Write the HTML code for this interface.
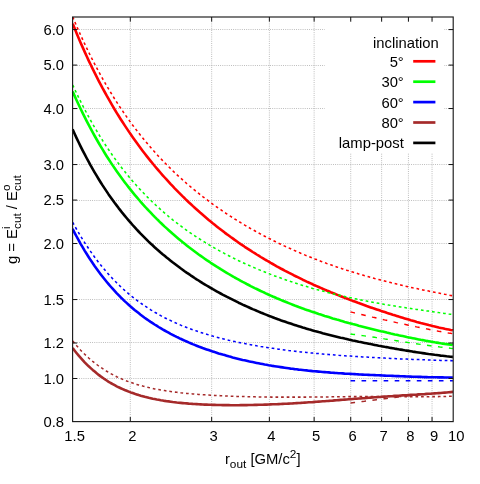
<!DOCTYPE html>
<html><head><meta charset="utf-8"><title>plot</title>
<style>html,body{margin:0;padding:0;background:#fff}svg{display:block;will-change:transform;opacity:0.9999}text{font-family:"Liberation Sans",sans-serif;fill:#000}</style></head>
<body>
<svg width="480" height="484" viewBox="0 0 480 484">
<rect width="480" height="484" fill="#fff"/>
<path d="M130.31 17.0 V421.6 M211.66 17.0 V421.6 M269.37 17.0 V421.6 M314.14 17.0 V421.6 M350.72 17.0 V421.6 M381.64 17.0 V421.6 M408.43 17.0 V421.6 M432.06 17.0 V421.6 M72.6 378.50 H453.2 M72.6 342.50 H453.2 M72.6 299.50 H453.2 M72.6 243.50 H453.2 M72.6 200.50 H453.2 M72.6 164.50 H453.2 M72.6 108.50 H453.2 M72.6 65.50 H453.2 M72.6 29.50 H453.2" stroke="#9a9a9a" stroke-width="0.72" stroke-dasharray="0.9 1.27" fill="none"/>
<clipPath id="c"><rect x="71.8" y="17.0" width="382.20000000000005" height="404.6"/></clipPath>
<g clip-path="url(#c)" fill="none" stroke-linejoin="round">
<path d="M72.7 23.7 L74.7 28.6 L76.7 33.5 L78.7 38.2 L80.7 42.9 L82.7 47.4 L84.7 51.9 L86.7 56.3 L88.7 60.6 L90.7 64.8 L92.7 68.9 L94.7 72.9 L96.7 76.9 L98.7 80.8 L100.7 84.6 L102.7 88.4 L104.7 92.0 L106.7 95.7 L108.7 99.2 L110.7 102.7 L112.7 106.1 L114.7 109.5 L116.7 112.8 L118.7 116.0 L120.7 119.2 L122.7 122.3 L124.7 125.4 L126.7 128.4 L128.7 131.4 L130.7 134.3 L132.7 137.2 L134.7 140.0 L136.7 142.8 L138.7 145.5 L140.7 148.2 L142.7 150.9 L144.7 153.5 L146.7 156.1 L148.7 158.6 L150.7 161.1 L152.7 163.5 L154.7 166.0 L156.7 168.3 L158.7 170.7 L160.7 173.0 L162.7 175.3 L164.7 177.5 L166.7 179.7 L168.7 181.9 L170.7 184.1 L172.7 186.2 L174.7 188.3 L176.7 190.3 L178.7 192.4 L180.7 194.4 L182.7 196.4 L184.7 198.3 L186.7 200.3 L188.7 202.2 L190.7 204.0 L192.7 205.9 L194.7 207.7 L196.7 209.5 L198.7 211.3 L200.7 213.1 L202.7 214.8 L204.7 216.5 L206.7 218.2 L208.7 219.9 L210.7 221.5 L212.7 223.2 L214.7 224.8 L216.7 226.4 L218.7 228.0 L220.7 229.5 L222.7 231.0 L224.7 232.6 L226.7 234.1 L228.7 235.5 L230.7 237.0 L232.7 238.4 L234.7 239.9 L236.7 241.3 L238.7 242.7 L240.7 244.1 L242.7 245.4 L244.7 246.8 L246.7 248.1 L248.7 249.4 L250.7 250.7 L252.7 252.0 L254.7 253.2 L256.7 254.5 L258.7 255.7 L260.7 257.0 L262.7 258.2 L264.7 259.4 L266.7 260.5 L268.7 261.7 L270.7 262.9 L272.7 264.0 L274.7 265.1 L276.7 266.3 L278.7 267.4 L280.7 268.5 L282.7 269.5 L284.7 270.6 L286.7 271.6 L288.7 272.7 L290.7 273.7 L292.7 274.7 L294.7 275.8 L296.7 276.7 L298.7 277.7 L300.7 278.7 L302.7 279.7 L304.7 280.6 L306.7 281.6 L308.7 282.5 L310.7 283.4 L312.7 284.3 L314.7 285.3 L316.7 286.1 L318.7 287.0 L320.7 287.9 L322.7 288.8 L324.7 289.6 L326.7 290.5 L328.7 291.3 L330.7 292.2 L332.7 293.0 L334.7 293.8 L336.7 294.6 L338.7 295.4 L340.7 296.2 L342.7 297.0 L344.7 297.8 L346.7 298.6 L348.7 299.3 L350.7 300.1 L352.7 300.9 L354.7 301.6 L356.7 302.3 L358.7 303.1 L360.7 303.8 L362.7 304.5 L364.7 305.2 L366.7 306.0 L368.7 306.7 L370.7 307.4 L372.7 308.1 L374.7 308.7 L376.7 309.4 L378.7 310.1 L380.7 310.8 L382.7 311.4 L384.7 312.1 L386.7 312.8 L388.7 313.4 L390.7 314.0 L392.7 314.7 L394.7 315.3 L396.7 315.9 L398.7 316.6 L400.7 317.2 L402.7 317.8 L404.7 318.4 L406.7 319.0 L408.7 319.6 L410.7 320.2 L412.7 320.7 L414.7 321.3 L416.7 321.9 L418.7 322.4 L420.7 323.0 L422.7 323.5 L424.7 324.0 L426.7 324.5 L428.7 325.1 L430.7 325.6 L432.7 326.1 L434.7 326.5 L436.7 327.0 L438.7 327.5 L440.7 327.9 L442.7 328.3 L444.7 328.8 L446.7 329.2 L448.7 329.6 L450.7 330.0 L452.7 330.3 L452.9 330.4" stroke="#ff0000" stroke-width="2.6"/>
<path d="M72.7 16.9 L74.7 21.6 L76.7 26.3 L78.7 30.8 L80.7 35.3 L82.7 39.6 L84.7 43.9 L86.7 48.1 L88.7 52.2 L90.7 56.3 L92.7 60.2 L94.7 64.1 L96.7 67.9 L98.7 71.6 L100.7 75.3 L102.7 78.9 L104.7 82.4 L106.7 85.8 L108.7 89.2 L110.7 92.5 L112.7 95.8 L114.7 99.0 L116.7 102.1 L118.7 105.2 L120.7 108.2 L122.7 111.1 L124.7 114.1 L126.7 116.9 L128.7 119.7 L130.7 122.5 L132.7 125.2 L134.7 127.8 L136.7 130.4 L138.7 133.0 L140.7 135.5 L142.7 138.0 L144.7 140.4 L146.7 142.8 L148.7 145.2 L150.7 147.5 L152.7 149.8 L154.7 152.0 L156.7 154.2 L158.7 156.4 L160.7 158.5 L162.7 160.6 L164.7 162.7 L166.7 164.7 L168.7 166.7 L170.7 168.7 L172.7 170.7 L174.7 172.6 L176.7 174.5 L178.7 176.3 L180.7 178.1 L182.7 179.9 L184.7 181.7 L186.7 183.5 L188.7 185.2 L190.7 186.9 L192.7 188.6 L194.7 190.2 L196.7 191.8 L198.7 193.4 L200.7 195.0 L202.7 196.6 L204.7 198.1 L206.7 199.6 L208.7 201.1 L210.7 202.6 L212.7 204.1 L214.7 205.5 L216.7 207.0 L218.7 208.4 L220.7 209.7 L222.7 211.1 L224.7 212.5 L226.7 213.8 L228.7 215.1 L230.7 216.4 L232.7 217.7 L234.7 219.0 L236.7 220.2 L238.7 221.4 L240.7 222.7 L242.7 223.9 L244.7 225.1 L246.7 226.2 L248.7 227.4 L250.7 228.6 L252.7 229.7 L254.7 230.8 L256.7 231.9 L258.7 233.0 L260.7 234.1 L262.7 235.2 L264.7 236.2 L266.7 237.3 L268.7 238.3 L270.7 239.3 L272.7 240.3 L274.7 241.3 L276.7 242.3 L278.7 243.3 L280.7 244.2 L282.7 245.2 L284.7 246.1 L286.7 247.0 L288.7 247.9 L290.7 248.8 L292.7 249.7 L294.7 250.6 L296.7 251.5 L298.7 252.3 L300.7 253.2 L302.7 254.0 L304.7 254.9 L306.7 255.7 L308.7 256.5 L310.7 257.3 L312.7 258.1 L314.7 258.9 L316.7 259.6 L318.7 260.4 L320.7 261.2 L322.7 261.9 L324.7 262.6 L326.7 263.4 L328.7 264.1 L330.7 264.8 L332.7 265.5 L334.7 266.2 L336.7 266.9 L338.7 267.6 L340.7 268.2 L342.7 268.9 L344.7 269.5 L346.7 270.2 L348.7 270.8 L350.7 271.5 L352.7 272.1 L354.7 272.7 L356.7 273.3 L358.7 273.9 L360.7 274.5 L362.7 275.1 L364.7 275.7 L366.7 276.2 L368.7 276.8 L370.7 277.4 L372.7 277.9 L374.7 278.5 L376.7 279.0 L378.7 279.5 L380.7 280.1 L382.7 280.6 L384.7 281.1 L386.7 281.6 L388.7 282.1 L390.7 282.6 L392.7 283.1 L394.7 283.6 L396.7 284.1 L398.7 284.6 L400.7 285.0 L402.7 285.5 L404.7 286.0 L406.7 286.4 L408.7 286.9 L410.7 287.3 L412.7 287.8 L414.7 288.2 L416.7 288.6 L418.7 289.1 L420.7 289.5 L422.7 289.9 L424.7 290.3 L426.7 290.7 L428.7 291.1 L430.7 291.6 L432.7 292.0 L434.7 292.3 L436.7 292.7 L438.7 293.1 L440.7 293.5 L442.7 293.9 L444.7 294.3 L446.7 294.6 L448.7 295.0 L450.7 295.4 L452.7 295.7 L452.9 295.8" stroke="#ff0000" stroke-width="1.55" stroke-dasharray="2.7 2.9"/>
<path d="M350.5 311.9 L352.5 312.4 L354.5 312.9 L356.5 313.3 L358.5 313.8 L360.5 314.3 L362.5 314.7 L364.5 315.2 L366.5 315.7 L368.5 316.2 L370.5 316.6 L372.5 317.1 L374.5 317.5 L376.5 318.0 L378.5 318.5 L380.5 318.9 L382.5 319.4 L384.5 319.9 L386.5 320.3 L388.5 320.8 L390.5 321.2 L392.5 321.7 L394.5 322.1 L396.5 322.6 L398.5 323.0 L400.5 323.4 L402.5 323.9 L404.5 324.3 L406.5 324.7 L408.5 325.2 L410.5 325.6 L412.5 326.0 L414.5 326.4 L416.5 326.9 L418.5 327.3 L420.5 327.7 L422.5 328.1 L424.5 328.5 L426.5 328.9 L428.5 329.3 L430.5 329.7 L432.5 330.1 L434.5 330.4 L436.5 330.8 L438.5 331.2 L440.5 331.5 L442.5 331.9 L444.5 332.3 L446.5 332.6 L448.5 333.0 L450.5 333.3 L452.5 333.7 L452.9 333.7" stroke="#ff0000" stroke-width="1.45" stroke-dasharray="4.6 6.45"/>
<path d="M72.7 91.6 L74.7 96.1 L76.7 100.5 L78.7 104.8 L80.7 109.0 L82.7 113.1 L84.7 117.1 L86.7 121.1 L88.7 124.9 L90.7 128.7 L92.7 132.4 L94.7 136.0 L96.7 139.5 L98.7 143.0 L100.7 146.4 L102.7 149.7 L104.7 153.0 L106.7 156.2 L108.7 159.3 L110.7 162.4 L112.7 165.4 L114.7 168.3 L116.7 171.2 L118.7 174.0 L120.7 176.8 L122.7 179.5 L124.7 182.2 L126.7 184.8 L128.7 187.4 L130.7 189.9 L132.7 192.4 L134.7 194.8 L136.7 197.2 L138.7 199.5 L140.7 201.8 L142.7 204.1 L144.7 206.3 L146.7 208.5 L148.7 210.6 L150.7 212.7 L152.7 214.8 L154.7 216.9 L156.7 218.9 L158.7 220.8 L160.7 222.8 L162.7 224.7 L164.7 226.6 L166.7 228.4 L168.7 230.2 L170.7 232.0 L172.7 233.8 L174.7 235.5 L176.7 237.2 L178.7 238.9 L180.7 240.6 L182.7 242.2 L184.7 243.8 L186.7 245.4 L188.7 247.0 L190.7 248.5 L192.7 250.0 L194.7 251.5 L196.7 253.0 L198.7 254.5 L200.7 255.9 L202.7 257.3 L204.7 258.7 L206.7 260.1 L208.7 261.4 L210.7 262.8 L212.7 264.1 L214.7 265.4 L216.7 266.7 L218.7 267.9 L220.7 269.2 L222.7 270.4 L224.7 271.6 L226.7 272.8 L228.7 274.0 L230.7 275.2 L232.7 276.3 L234.7 277.5 L236.7 278.6 L238.7 279.7 L240.7 280.8 L242.7 281.9 L244.7 282.9 L246.7 284.0 L248.7 285.0 L250.7 286.1 L252.7 287.1 L254.7 288.1 L256.7 289.0 L258.7 290.0 L260.7 291.0 L262.7 291.9 L264.7 292.8 L266.7 293.8 L268.7 294.7 L270.7 295.6 L272.7 296.5 L274.7 297.3 L276.7 298.2 L278.7 299.0 L280.7 299.9 L282.7 300.7 L284.7 301.5 L286.7 302.3 L288.7 303.1 L290.7 303.9 L292.7 304.7 L294.7 305.5 L296.7 306.2 L298.7 307.0 L300.7 307.7 L302.7 308.4 L304.7 309.2 L306.7 309.9 L308.7 310.6 L310.7 311.3 L312.7 311.9 L314.7 312.6 L316.7 313.3 L318.7 314.0 L320.7 314.6 L322.7 315.2 L324.7 315.9 L326.7 316.5 L328.7 317.1 L330.7 317.7 L332.7 318.4 L334.7 319.0 L336.7 319.6 L338.7 320.1 L340.7 320.7 L342.7 321.3 L344.7 321.9 L346.7 322.4 L348.7 323.0 L350.7 323.5 L352.7 324.1 L354.7 324.6 L356.7 325.1 L358.7 325.7 L360.7 326.2 L362.7 326.7 L364.7 327.2 L366.7 327.7 L368.7 328.2 L370.7 328.7 L372.7 329.2 L374.7 329.7 L376.7 330.2 L378.7 330.7 L380.7 331.2 L382.7 331.6 L384.7 332.1 L386.7 332.6 L388.7 333.0 L390.7 333.5 L392.7 333.9 L394.7 334.4 L396.7 334.8 L398.7 335.3 L400.7 335.7 L402.7 336.1 L404.7 336.5 L406.7 337.0 L408.7 337.4 L410.7 337.8 L412.7 338.2 L414.7 338.6 L416.7 339.0 L418.7 339.4 L420.7 339.8 L422.7 340.1 L424.7 340.5 L426.7 340.9 L428.7 341.2 L430.7 341.6 L432.7 341.9 L434.7 342.3 L436.7 342.6 L438.7 342.9 L440.7 343.3 L442.7 343.6 L444.7 343.9 L446.7 344.1 L448.7 344.4 L450.7 344.7 L452.7 344.9 L452.9 345.0" stroke="#00ff00" stroke-width="2.6"/>
<path d="M72.7 85.0 L74.7 89.3 L76.7 93.5 L78.7 97.6 L80.7 101.6 L82.7 105.6 L84.7 109.4 L86.7 113.2 L88.7 116.9 L90.7 120.5 L92.7 124.1 L94.7 127.5 L96.7 130.9 L98.7 134.2 L100.7 137.5 L102.7 140.7 L104.7 143.8 L106.7 146.8 L108.7 149.8 L110.7 152.7 L112.7 155.6 L114.7 158.4 L116.7 161.1 L118.7 163.8 L120.7 166.5 L122.7 169.1 L124.7 171.6 L126.7 174.1 L128.7 176.5 L130.7 178.9 L132.7 181.2 L134.7 183.5 L136.7 185.8 L138.7 188.0 L140.7 190.1 L142.7 192.2 L144.7 194.3 L146.7 196.4 L148.7 198.4 L150.7 200.3 L152.7 202.3 L154.7 204.2 L156.7 206.0 L158.7 207.8 L160.7 209.6 L162.7 211.4 L164.7 213.1 L166.7 214.8 L168.7 216.5 L170.7 218.1 L172.7 219.8 L174.7 221.3 L176.7 222.9 L178.7 224.4 L180.7 225.9 L182.7 227.4 L184.7 228.9 L186.7 230.3 L188.7 231.7 L190.7 233.1 L192.7 234.5 L194.7 235.8 L196.7 237.1 L198.7 238.4 L200.7 239.7 L202.7 241.0 L204.7 242.2 L206.7 243.4 L208.7 244.6 L210.7 245.8 L212.7 247.0 L214.7 248.1 L216.7 249.3 L218.7 250.4 L220.7 251.5 L222.7 252.5 L224.7 253.6 L226.7 254.7 L228.7 255.7 L230.7 256.7 L232.7 257.7 L234.7 258.7 L236.7 259.7 L238.7 260.7 L240.7 261.6 L242.7 262.6 L244.7 263.5 L246.7 264.4 L248.7 265.3 L250.7 266.2 L252.7 267.1 L254.7 267.9 L256.7 268.8 L258.7 269.6 L260.7 270.4 L262.7 271.2 L264.7 272.0 L266.7 272.8 L268.7 273.6 L270.7 274.4 L272.7 275.2 L274.7 275.9 L276.7 276.6 L278.7 277.4 L280.7 278.1 L282.7 278.8 L284.7 279.5 L286.7 280.2 L288.7 280.9 L290.7 281.6 L292.7 282.2 L294.7 282.9 L296.7 283.5 L298.7 284.1 L300.7 284.8 L302.7 285.4 L304.7 286.0 L306.7 286.6 L308.7 287.2 L310.7 287.8 L312.7 288.4 L314.7 288.9 L316.7 289.5 L318.7 290.0 L320.7 290.6 L322.7 291.1 L324.7 291.6 L326.7 292.2 L328.7 292.7 L330.7 293.2 L332.7 293.7 L334.7 294.2 L336.7 294.6 L338.7 295.1 L340.7 295.6 L342.7 296.0 L344.7 296.5 L346.7 297.0 L348.7 297.4 L350.7 297.8 L352.7 298.3 L354.7 298.7 L356.7 299.1 L358.7 299.5 L360.7 299.9 L362.7 300.3 L364.7 300.7 L366.7 301.1 L368.7 301.5 L370.7 301.9 L372.7 302.2 L374.7 302.6 L376.7 303.0 L378.7 303.3 L380.7 303.7 L382.7 304.0 L384.7 304.4 L386.7 304.7 L388.7 305.1 L390.7 305.4 L392.7 305.7 L394.7 306.0 L396.7 306.4 L398.7 306.7 L400.7 307.0 L402.7 307.3 L404.7 307.6 L406.7 307.9 L408.7 308.2 L410.7 308.5 L412.7 308.8 L414.7 309.1 L416.7 309.4 L418.7 309.7 L420.7 310.0 L422.7 310.3 L424.7 310.6 L426.7 310.9 L428.7 311.1 L430.7 311.4 L432.7 311.7 L434.7 312.0 L436.7 312.3 L438.7 312.6 L440.7 312.8 L442.7 313.1 L444.7 313.4 L446.7 313.7 L448.7 314.0 L450.7 314.2 L452.7 314.5 L452.9 314.5" stroke="#00ff00" stroke-width="1.55" stroke-dasharray="2.7 2.9"/>
<path d="M350.5 334.0 L352.5 334.3 L354.5 334.5 L356.5 334.8 L358.5 335.0 L360.5 335.3 L362.5 335.6 L364.5 335.9 L366.5 336.2 L368.5 336.5 L370.5 336.7 L372.5 337.0 L374.5 337.3 L376.5 337.6 L378.5 337.9 L380.5 338.2 L382.5 338.5 L384.5 338.9 L386.5 339.2 L388.5 339.5 L390.5 339.8 L392.5 340.1 L394.5 340.4 L396.5 340.7 L398.5 341.0 L400.5 341.3 L402.5 341.7 L404.5 342.0 L406.5 342.3 L408.5 342.6 L410.5 342.9 L412.5 343.2 L414.5 343.5 L416.5 343.8 L418.5 344.1 L420.5 344.4 L422.5 344.7 L424.5 345.0 L426.5 345.2 L428.5 345.5 L430.5 345.8 L432.5 346.1 L434.5 346.3 L436.5 346.6 L438.5 346.8 L440.5 347.1 L442.5 347.3 L444.5 347.6 L446.5 347.8 L448.5 348.0 L450.5 348.3 L452.5 348.5 L452.9 348.5" stroke="#00ff00" stroke-width="1.45" stroke-dasharray="4.6 6.45"/>
<path d="M72.6 228.9 L74.6 232.8 L76.6 236.5 L78.6 240.2 L80.6 243.8 L82.6 247.2 L84.6 250.6 L86.6 253.8 L88.6 257.0 L90.6 260.1 L92.6 263.0 L94.6 266.0 L96.6 268.8 L98.6 271.5 L100.6 274.2 L102.6 276.8 L104.6 279.3 L106.6 281.8 L108.6 284.2 L110.6 286.5 L112.6 288.7 L114.6 290.9 L116.6 293.1 L118.6 295.1 L120.6 297.2 L122.6 299.1 L124.6 301.1 L126.6 302.9 L128.6 304.7 L130.6 306.5 L132.6 308.2 L134.6 309.9 L136.6 311.5 L138.6 313.1 L140.6 314.7 L142.6 316.2 L144.6 317.7 L146.6 319.1 L148.6 320.5 L150.6 321.9 L152.6 323.2 L154.6 324.5 L156.6 325.7 L158.6 327.0 L160.6 328.2 L162.6 329.4 L164.6 330.5 L166.6 331.6 L168.6 332.7 L170.6 333.8 L172.6 334.8 L174.6 335.9 L176.6 336.9 L178.6 337.8 L180.6 338.8 L182.6 339.7 L184.6 340.6 L186.6 341.5 L188.6 342.4 L190.6 343.2 L192.6 344.1 L194.6 344.9 L196.6 345.7 L198.6 346.5 L200.6 347.2 L202.6 348.0 L204.6 348.7 L206.6 349.4 L208.6 350.1 L210.6 350.8 L212.6 351.4 L214.6 352.1 L216.6 352.7 L218.6 353.4 L220.6 354.0 L222.6 354.6 L224.6 355.1 L226.6 355.7 L228.6 356.3 L230.6 356.8 L232.6 357.4 L234.6 357.9 L236.6 358.4 L238.6 358.9 L240.6 359.4 L242.6 359.9 L244.6 360.3 L246.6 360.8 L248.6 361.3 L250.6 361.7 L252.6 362.1 L254.6 362.5 L256.6 362.9 L258.6 363.3 L260.6 363.7 L262.6 364.1 L264.6 364.5 L266.6 364.8 L268.6 365.2 L270.6 365.5 L272.6 365.9 L274.6 366.2 L276.6 366.5 L278.6 366.8 L280.6 367.1 L282.6 367.4 L284.6 367.7 L286.6 368.0 L288.6 368.3 L290.6 368.6 L292.6 368.8 L294.6 369.1 L296.6 369.3 L298.6 369.6 L300.6 369.8 L302.6 370.0 L304.6 370.2 L306.6 370.4 L308.6 370.7 L310.6 370.9 L312.6 371.1 L314.6 371.2 L316.6 371.4 L318.6 371.6 L320.6 371.8 L322.6 372.0 L324.6 372.1 L326.6 372.3 L328.6 372.4 L330.6 372.6 L332.6 372.7 L334.6 372.9 L336.6 373.0 L338.6 373.2 L340.6 373.3 L342.6 373.4 L344.6 373.6 L346.6 373.7 L348.6 373.8 L350.6 373.9 L352.6 374.0 L354.6 374.1 L356.6 374.2 L358.6 374.4 L360.6 374.5 L362.6 374.6 L364.6 374.7 L366.6 374.8 L368.6 374.9 L370.6 375.0 L372.6 375.0 L374.6 375.1 L376.6 375.2 L378.6 375.3 L380.6 375.4 L382.6 375.5 L384.6 375.6 L386.6 375.7 L388.6 375.7 L390.6 375.8 L392.6 375.9 L394.6 376.0 L396.6 376.1 L398.6 376.1 L400.6 376.2 L402.6 376.3 L404.6 376.4 L406.6 376.5 L408.6 376.5 L410.6 376.6 L412.6 376.7 L414.6 376.7 L416.6 376.8 L418.6 376.9 L420.6 376.9 L422.6 377.0 L424.6 377.1 L426.6 377.1 L428.6 377.2 L430.6 377.2 L432.6 377.3 L434.6 377.3 L436.6 377.3 L438.6 377.4 L440.6 377.4 L442.6 377.4 L444.6 377.5 L446.6 377.5 L448.6 377.5 L450.6 377.5 L452.6 377.5 L452.9 377.5" stroke="#0000ff" stroke-width="2.6"/>
<path d="M72.7 222.3 L74.7 226.0 L76.7 229.5 L78.7 232.9 L80.7 236.3 L82.7 239.5 L84.7 242.7 L86.7 245.7 L88.7 248.7 L90.7 251.6 L92.7 254.5 L94.7 257.2 L96.7 259.9 L98.7 262.5 L100.7 265.0 L102.7 267.5 L104.7 269.8 L106.7 272.2 L108.7 274.4 L110.7 276.6 L112.7 278.7 L114.7 280.8 L116.7 282.8 L118.7 284.8 L120.7 286.7 L122.7 288.6 L124.7 290.4 L126.7 292.1 L128.7 293.8 L130.7 295.5 L132.7 297.1 L134.7 298.7 L136.7 300.2 L138.7 301.7 L140.7 303.1 L142.7 304.5 L144.7 305.9 L146.7 307.2 L148.7 308.5 L150.7 309.8 L152.7 311.0 L154.7 312.2 L156.7 313.3 L158.7 314.5 L160.7 315.6 L162.7 316.6 L164.7 317.7 L166.7 318.7 L168.7 319.7 L170.7 320.6 L172.7 321.6 L174.7 322.5 L176.7 323.4 L178.7 324.2 L180.7 325.1 L182.7 325.9 L184.7 326.7 L186.7 327.5 L188.7 328.3 L190.7 329.0 L192.7 329.7 L194.7 330.4 L196.7 331.1 L198.7 331.8 L200.7 332.4 L202.7 333.1 L204.7 333.7 L206.7 334.3 L208.7 334.9 L210.7 335.5 L212.7 336.1 L214.7 336.6 L216.7 337.2 L218.7 337.7 L220.7 338.2 L222.7 338.7 L224.7 339.2 L226.7 339.7 L228.7 340.2 L230.7 340.6 L232.7 341.1 L234.7 341.5 L236.7 342.0 L238.7 342.4 L240.7 342.8 L242.7 343.2 L244.7 343.6 L246.7 344.0 L248.7 344.4 L250.7 344.7 L252.7 345.1 L254.7 345.4 L256.7 345.8 L258.7 346.1 L260.7 346.5 L262.7 346.8 L264.7 347.1 L266.7 347.4 L268.7 347.7 L270.7 348.0 L272.7 348.3 L274.7 348.6 L276.7 348.9 L278.7 349.2 L280.7 349.4 L282.7 349.7 L284.7 350.0 L286.7 350.2 L288.7 350.5 L290.7 350.7 L292.7 350.9 L294.7 351.2 L296.7 351.4 L298.7 351.6 L300.7 351.9 L302.7 352.1 L304.7 352.3 L306.7 352.5 L308.7 352.7 L310.7 352.9 L312.7 353.1 L314.7 353.3 L316.7 353.5 L318.7 353.6 L320.7 353.8 L322.7 354.0 L324.7 354.2 L326.7 354.3 L328.7 354.5 L330.7 354.7 L332.7 354.8 L334.7 355.0 L336.7 355.1 L338.7 355.3 L340.7 355.4 L342.7 355.6 L344.7 355.7 L346.7 355.9 L348.7 356.0 L350.7 356.1 L352.7 356.3 L354.7 356.4 L356.7 356.5 L358.7 356.7 L360.7 356.8 L362.7 356.9 L364.7 357.0 L366.7 357.1 L368.7 357.2 L370.7 357.4 L372.7 357.5 L374.7 357.6 L376.7 357.7 L378.7 357.8 L380.7 357.9 L382.7 358.0 L384.7 358.1 L386.7 358.2 L388.7 358.3 L390.7 358.4 L392.7 358.5 L394.7 358.6 L396.7 358.7 L398.7 358.8 L400.7 358.9 L402.7 358.9 L404.7 359.0 L406.7 359.1 L408.7 359.2 L410.7 359.3 L412.7 359.4 L414.7 359.4 L416.7 359.5 L418.7 359.6 L420.7 359.7 L422.7 359.8 L424.7 359.8 L426.7 359.9 L428.7 360.0 L430.7 360.0 L432.7 360.1 L434.7 360.2 L436.7 360.2 L438.7 360.3 L440.7 360.4 L442.7 360.4 L444.7 360.5 L446.7 360.5 L448.7 360.6 L450.7 360.6 L452.7 360.7 L452.9 360.7" stroke="#0000ff" stroke-width="1.55" stroke-dasharray="2.7 2.9"/>
<path d="M350.50 380.80 L452.90 380.80" stroke="#0000ff" stroke-width="1.45" stroke-dasharray="4.6 6.45"/>
<path d="M72.7 348.1 L74.7 350.7 L76.7 353.2 L78.7 355.6 L80.7 357.9 L82.7 360.1 L84.7 362.3 L86.7 364.3 L88.7 366.3 L90.7 368.1 L92.7 369.9 L94.7 371.6 L96.7 373.3 L98.7 374.9 L100.7 376.4 L102.7 377.8 L104.7 379.2 L106.7 380.5 L108.7 381.8 L110.7 383.0 L112.7 384.1 L114.7 385.2 L116.7 386.3 L118.7 387.3 L120.7 388.2 L122.7 389.1 L124.7 390.0 L126.7 390.8 L128.7 391.6 L130.7 392.4 L132.7 393.1 L134.7 393.8 L136.7 394.4 L138.7 395.1 L140.7 395.7 L142.7 396.2 L144.7 396.8 L146.7 397.3 L148.7 397.8 L150.7 398.2 L152.7 398.7 L154.7 399.1 L156.7 399.5 L158.7 399.8 L160.7 400.2 L162.7 400.5 L164.7 400.9 L166.7 401.2 L168.7 401.4 L170.7 401.7 L172.7 402.0 L174.7 402.2 L176.7 402.5 L178.7 402.7 L180.7 402.9 L182.7 403.1 L184.7 403.3 L186.7 403.4 L188.7 403.6 L190.7 403.7 L192.7 403.9 L194.7 404.0 L196.7 404.1 L198.7 404.3 L200.7 404.4 L202.7 404.5 L204.7 404.6 L206.7 404.6 L208.7 404.7 L210.7 404.8 L212.7 404.9 L214.7 404.9 L216.7 405.0 L218.7 405.0 L220.7 405.0 L222.7 405.1 L224.7 405.1 L226.7 405.1 L228.7 405.1 L230.7 405.2 L232.7 405.2 L234.7 405.2 L236.7 405.2 L238.7 405.2 L240.7 405.1 L242.7 405.1 L244.7 405.1 L246.7 405.1 L248.7 405.0 L250.7 405.0 L252.7 405.0 L254.7 404.9 L256.7 404.9 L258.7 404.8 L260.7 404.8 L262.7 404.7 L264.7 404.6 L266.7 404.6 L268.7 404.5 L270.7 404.4 L272.7 404.3 L274.7 404.3 L276.7 404.2 L278.7 404.1 L280.7 404.0 L282.7 403.9 L284.7 403.8 L286.7 403.7 L288.7 403.6 L290.7 403.5 L292.7 403.4 L294.7 403.2 L296.7 403.1 L298.7 403.0 L300.7 402.9 L302.7 402.7 L304.7 402.6 L306.7 402.5 L308.7 402.3 L310.7 402.2 L312.7 402.1 L314.7 401.9 L316.7 401.8 L318.7 401.6 L320.7 401.5 L322.7 401.3 L324.7 401.2 L326.7 401.0 L328.7 400.9 L330.7 400.7 L332.7 400.6 L334.7 400.4 L336.7 400.3 L338.7 400.1 L340.7 399.9 L342.7 399.8 L344.7 399.6 L346.7 399.5 L348.7 399.3 L350.7 399.2 L352.7 399.0 L354.7 398.8 L356.7 398.7 L358.7 398.5 L360.7 398.4 L362.7 398.2 L364.7 398.1 L366.7 397.9 L368.7 397.8 L370.7 397.6 L372.7 397.5 L374.7 397.3 L376.7 397.2 L378.7 397.0 L380.7 396.9 L382.7 396.7 L384.7 396.6 L386.7 396.5 L388.7 396.3 L390.7 396.2 L392.7 396.1 L394.7 395.9 L396.7 395.8 L398.7 395.7 L400.7 395.5 L402.7 395.4 L404.7 395.3 L406.7 395.2 L408.7 395.0 L410.7 394.9 L412.7 394.8 L414.7 394.7 L416.7 394.6 L418.7 394.4 L420.7 394.3 L422.7 394.2 L424.7 394.1 L426.7 393.9 L428.7 393.8 L430.7 393.7 L432.7 393.5 L434.7 393.4 L436.7 393.3 L438.7 393.1 L440.7 393.0 L442.7 392.8 L444.7 392.6 L446.7 392.5 L448.7 392.3 L450.7 392.1 L452.7 391.9 L452.9 391.9" stroke="#a52a2a" stroke-width="2.6"/>
<path d="M72.7 341.0 L74.7 343.4 L76.7 345.8 L78.7 348.0 L80.7 350.2 L82.7 352.3 L84.7 354.2 L86.7 356.1 L88.7 358.0 L90.7 359.7 L92.7 361.4 L94.7 363.0 L96.7 364.5 L98.7 366.0 L100.7 367.4 L102.7 368.7 L104.7 370.0 L106.7 371.3 L108.7 372.4 L110.7 373.6 L112.7 374.6 L114.7 375.7 L116.7 376.7 L118.7 377.6 L120.7 378.5 L122.7 379.4 L124.7 380.2 L126.7 381.0 L128.7 381.7 L130.7 382.4 L132.7 383.1 L134.7 383.8 L136.7 384.4 L138.7 385.0 L140.7 385.5 L142.7 386.1 L144.7 386.6 L146.7 387.1 L148.7 387.6 L150.7 388.0 L152.7 388.4 L154.7 388.9 L156.7 389.2 L158.7 389.6 L160.7 390.0 L162.7 390.3 L164.7 390.6 L166.7 391.0 L168.7 391.2 L170.7 391.5 L172.7 391.8 L174.7 392.1 L176.7 392.3 L178.7 392.5 L180.7 392.8 L182.7 393.0 L184.7 393.2 L186.7 393.4 L188.7 393.6 L190.7 393.8 L192.7 393.9 L194.7 394.1 L196.7 394.3 L198.7 394.4 L200.7 394.6 L202.7 394.7 L204.7 394.8 L206.7 395.0 L208.7 395.1 L210.7 395.2 L212.7 395.3 L214.7 395.4 L216.7 395.5 L218.7 395.6 L220.7 395.7 L222.7 395.8 L224.7 395.9 L226.7 396.0 L228.7 396.1 L230.7 396.2 L232.7 396.2 L234.7 396.3 L236.7 396.4 L238.7 396.4 L240.7 396.5 L242.7 396.5 L244.7 396.6 L246.7 396.7 L248.7 396.7 L250.7 396.7 L252.7 396.8 L254.7 396.8 L256.7 396.9 L258.7 396.9 L260.7 396.9 L262.7 397.0 L264.7 397.0 L266.7 397.0 L268.7 397.0 L270.7 397.1 L272.7 397.1 L274.7 397.1 L276.7 397.1 L278.7 397.1 L280.7 397.1 L282.7 397.1 L284.7 397.1 L286.7 397.1 L288.7 397.1 L290.7 397.1 L292.7 397.1 L294.7 397.1 L296.7 397.1 L298.7 397.1 L300.7 397.1 L302.7 397.1 L304.7 397.1 L306.7 397.1 L308.7 397.1 L310.7 397.0 L312.7 397.0 L314.7 397.0 L316.7 397.0 L318.7 397.0 L320.7 396.9 L322.7 396.9 L324.7 396.9 L326.7 396.9 L328.7 396.9 L330.7 396.8 L332.7 396.8 L334.7 396.8 L336.7 396.8 L338.7 396.8 L340.7 396.7 L342.7 396.7 L344.7 396.7 L346.7 396.7 L348.7 396.6 L350.7 396.6 L352.7 396.6 L354.7 396.6 L356.7 396.6 L358.7 396.6 L360.7 396.5 L362.7 396.5 L364.7 396.5 L366.7 396.5 L368.7 396.5 L370.7 396.5 L372.7 396.5 L374.7 396.5 L376.7 396.5 L378.7 396.5 L380.7 396.5 L382.7 396.5 L384.7 396.5 L386.7 396.5 L388.7 396.5 L390.7 396.5 L392.7 396.5 L394.7 396.5 L396.7 396.5 L398.7 396.5 L400.7 396.5 L402.7 396.5 L404.7 396.6 L406.7 396.6 L408.7 396.6 L410.7 396.6 L412.7 396.6 L414.7 396.6 L416.7 396.6 L418.7 396.6 L420.7 396.6 L422.7 396.6 L424.7 396.7 L426.7 396.7 L428.7 396.7 L430.7 396.6 L432.7 396.6 L434.7 396.6 L436.7 396.6 L438.7 396.6 L440.7 396.5 L442.7 396.5 L444.7 396.5 L446.7 396.4 L448.7 396.3 L450.7 396.3 L452.7 396.2 L452.9 396.2" stroke="#a52a2a" stroke-width="1.55" stroke-dasharray="2.7 2.9"/>
<path d="M350.5 403.0 L352.5 402.7 L354.5 402.5 L356.5 402.3 L358.5 402.0 L360.5 401.8 L362.5 401.5 L364.5 401.3 L366.5 401.0 L368.5 400.8 L370.5 400.5 L372.5 400.3 L374.5 400.0 L376.5 399.7 L378.5 399.5 L380.5 399.2 L382.5 399.0 L384.5 398.7 L386.5 398.5 L388.5 398.3 L390.5 398.0 L392.5 397.8 L394.5 397.5 L396.5 397.3 L398.5 397.1 L400.5 396.8 L402.5 396.6 L404.5 396.4 L406.5 396.1 L408.5 395.9 L410.5 395.7 L412.5 395.5 L414.5 395.2 L416.5 395.0 L418.5 394.8 L420.5 394.6 L422.5 394.4 L424.5 394.2 L426.5 394.0 L428.5 393.8 L430.5 393.7 L432.5 393.5 L434.5 393.3 L436.5 393.1 L438.5 393.0 L440.5 392.8 L442.5 392.7 L444.5 392.5 L446.5 392.4 L448.5 392.3 L450.5 392.1 L452.5 392.0 L452.9 392.0" stroke="#a52a2a" stroke-width="1.45" stroke-dasharray="4.6 6.45"/>
<path d="M72.6 129.4 L74.6 133.8 L76.6 138.1 L78.6 142.3 L80.6 146.4 L82.6 150.4 L84.6 154.2 L86.6 158.0 L88.6 161.7 L90.6 165.4 L92.6 168.9 L94.6 172.3 L96.6 175.7 L98.6 179.0 L100.6 182.2 L102.6 185.4 L104.6 188.4 L106.6 191.4 L108.6 194.4 L110.6 197.2 L112.6 200.0 L114.6 202.8 L116.6 205.4 L118.6 208.1 L120.6 210.6 L122.6 213.2 L124.6 215.6 L126.6 218.0 L128.6 220.4 L130.6 222.7 L132.6 225.0 L134.6 227.2 L136.6 229.4 L138.6 231.5 L140.6 233.6 L142.6 235.6 L144.6 237.6 L146.6 239.6 L148.6 241.6 L150.6 243.5 L152.6 245.3 L154.6 247.2 L156.6 249.0 L158.6 250.7 L160.6 252.5 L162.6 254.2 L164.6 255.8 L166.6 257.5 L168.6 259.1 L170.6 260.7 L172.6 262.3 L174.6 263.8 L176.6 265.3 L178.6 266.8 L180.6 268.3 L182.6 269.7 L184.6 271.2 L186.6 272.6 L188.6 273.9 L190.6 275.3 L192.6 276.6 L194.6 278.0 L196.6 279.3 L198.6 280.5 L200.6 281.8 L202.6 283.1 L204.6 284.3 L206.6 285.5 L208.6 286.7 L210.6 287.9 L212.6 289.0 L214.6 290.2 L216.6 291.3 L218.6 292.4 L220.6 293.5 L222.6 294.6 L224.6 295.6 L226.6 296.7 L228.6 297.7 L230.6 298.7 L232.6 299.7 L234.6 300.7 L236.6 301.7 L238.6 302.7 L240.6 303.6 L242.6 304.6 L244.6 305.5 L246.6 306.4 L248.6 307.3 L250.6 308.2 L252.6 309.1 L254.6 309.9 L256.6 310.8 L258.6 311.6 L260.6 312.5 L262.6 313.3 L264.6 314.1 L266.6 314.9 L268.6 315.7 L270.6 316.4 L272.6 317.2 L274.6 318.0 L276.6 318.7 L278.6 319.4 L280.6 320.2 L282.6 320.9 L284.6 321.6 L286.6 322.3 L288.6 322.9 L290.6 323.6 L292.6 324.3 L294.6 324.9 L296.6 325.6 L298.6 326.2 L300.6 326.8 L302.6 327.5 L304.6 328.1 L306.6 328.7 L308.6 329.3 L310.6 329.8 L312.6 330.4 L314.6 331.0 L316.6 331.5 L318.6 332.1 L320.6 332.6 L322.6 333.2 L324.6 333.7 L326.6 334.2 L328.6 334.7 L330.6 335.2 L332.6 335.7 L334.6 336.2 L336.6 336.7 L338.6 337.2 L340.6 337.7 L342.6 338.1 L344.6 338.6 L346.6 339.0 L348.6 339.5 L350.6 339.9 L352.6 340.4 L354.6 340.8 L356.6 341.2 L358.6 341.7 L360.6 342.1 L362.6 342.5 L364.6 342.9 L366.6 343.3 L368.6 343.7 L370.6 344.1 L372.6 344.5 L374.6 344.9 L376.6 345.3 L378.6 345.7 L380.6 346.0 L382.6 346.4 L384.6 346.8 L386.6 347.1 L388.6 347.5 L390.6 347.9 L392.6 348.2 L394.6 348.6 L396.6 348.9 L398.6 349.3 L400.6 349.6 L402.6 349.9 L404.6 350.3 L406.6 350.6 L408.6 350.9 L410.6 351.2 L412.6 351.6 L414.6 351.9 L416.6 352.2 L418.6 352.5 L420.6 352.8 L422.6 353.1 L424.6 353.4 L426.6 353.7 L428.6 354.0 L430.6 354.2 L432.6 354.5 L434.6 354.8 L436.6 355.0 L438.6 355.3 L440.6 355.6 L442.6 355.8 L444.6 356.0 L446.6 356.3 L448.6 356.5 L450.6 356.7 L452.6 356.9 L452.9 356.9" stroke="#000000" stroke-width="2.6"/>
</g>
<rect x="324.8" y="22" width="119.2" height="131" fill="#fff"/>
<path d="M130.31 421.6 v-4.6 M130.31 17.0 v4.6 M211.66 421.6 v-4.6 M211.66 17.0 v4.6 M269.37 421.6 v-4.6 M269.37 17.0 v4.6 M314.14 421.6 v-4.6 M314.14 17.0 v4.6 M350.72 421.6 v-4.6 M350.72 17.0 v4.6 M381.64 421.6 v-4.6 M381.64 17.0 v4.6 M408.43 421.6 v-4.6 M408.43 17.0 v4.6 M432.06 421.6 v-4.6 M432.06 17.0 v4.6 M72.6 378.51 h4.6 M453.2 378.51 h-4.6 M72.6 343.00 h4.6 M453.2 343.00 h-4.6 M72.6 299.55 h4.6 M453.2 299.55 h-4.6 M72.6 243.52 h4.6 M453.2 243.52 h-4.6 M72.6 200.07 h4.6 M453.2 200.07 h-4.6 M72.6 164.56 h4.6 M453.2 164.56 h-4.6 M72.6 108.54 h4.6 M453.2 108.54 h-4.6 M72.6 65.09 h4.6 M453.2 65.09 h-4.6 M72.6 29.58 h4.6 M453.2 29.58 h-4.6" stroke="#111" stroke-width="1" fill="none"/>
<rect x="72.6" y="17.0" width="380.6" height="404.6" fill="none" stroke="#1a1a1a" stroke-width="1.15"/>
<text x="64.1" y="426.96" font-size="14.8" text-anchor="end">0.8</text>
<text x="64.1" y="383.51" font-size="14.8" text-anchor="end">1.0</text>
<text x="64.1" y="348.00" font-size="14.8" text-anchor="end">1.2</text>
<text x="64.1" y="304.55" font-size="14.8" text-anchor="end">1.5</text>
<text x="64.1" y="248.52" font-size="14.8" text-anchor="end">2.0</text>
<text x="64.1" y="205.07" font-size="14.8" text-anchor="end">2.5</text>
<text x="64.1" y="169.56" font-size="14.8" text-anchor="end">3.0</text>
<text x="64.1" y="113.54" font-size="14.8" text-anchor="end">4.0</text>
<text x="64.1" y="70.09" font-size="14.8" text-anchor="end">5.0</text>
<text x="64.1" y="34.58" font-size="14.8" text-anchor="end">6.0</text>
<text x="74.60" y="441.4" font-size="14.8" text-anchor="middle">1.5</text>
<text x="132.31" y="441.4" font-size="14.8" text-anchor="middle">2</text>
<text x="213.66" y="441.4" font-size="14.8" text-anchor="middle">3</text>
<text x="271.37" y="441.4" font-size="14.8" text-anchor="middle">4</text>
<text x="316.14" y="441.4" font-size="14.8" text-anchor="middle">5</text>
<text x="352.72" y="441.4" font-size="14.8" text-anchor="middle">6</text>
<text x="383.64" y="441.4" font-size="14.8" text-anchor="middle">7</text>
<text x="410.43" y="441.4" font-size="14.8" text-anchor="middle">8</text>
<text x="434.06" y="441.4" font-size="14.8" text-anchor="middle">9</text>
<text x="456.20" y="441.4" font-size="14.8" text-anchor="middle">10</text>
<text x="373.0" y="47.6" font-size="14.8">inclination</text>
<text x="403.8" y="66.8" font-size="14.8" text-anchor="end">5°</text>
<path d="M413.2 61.3 H435.4" stroke="#ff0000" stroke-width="2.7" fill="none"/>
<text x="403.8" y="87.2" font-size="14.8" text-anchor="end">30°</text>
<path d="M413.2 81.7 H435.4" stroke="#00ff00" stroke-width="2.7" fill="none"/>
<text x="403.8" y="107.6" font-size="14.8" text-anchor="end">60°</text>
<path d="M413.2 102.1 H435.4" stroke="#0000ff" stroke-width="2.7" fill="none"/>
<text x="403.8" y="128.0" font-size="14.8" text-anchor="end">80°</text>
<path d="M413.2 122.5 H435.4" stroke="#a52a2a" stroke-width="2.7" fill="none"/>
<text x="403.8" y="148.4" font-size="14.8" text-anchor="end">lamp-post</text>
<path d="M413.2 142.9 H435.4" stroke="#000000" stroke-width="2.7" fill="none"/>
<text x="224.9" y="464.3" font-size="14.8">r<tspan font-size="11.84" dy="3.4">out</tspan><tspan dy="-3.4" dx="4.11">[GM/c</tspan><tspan font-size="11.84" dy="-6.8">2</tspan><tspan dy="6.8">]</tspan></text>
<g transform="translate(17.0 264.0) rotate(-90)">
<text x="0" y="0" font-size="14.8">g = E</text>
<text x="34.97" y="4.3" font-size="11.84">cut</text>
<text x="34.97" y="-7.4" font-size="11.84">i</text>
<text x="54.88" y="0" font-size="14.8">/</text>
<text x="63.11" y="0" font-size="14.8">E</text>
<text x="72.98" y="4.3" font-size="11.84">cut</text>
<text x="72.98" y="-7.4" font-size="11.84">o</text>
</g>
</svg></body></html>
